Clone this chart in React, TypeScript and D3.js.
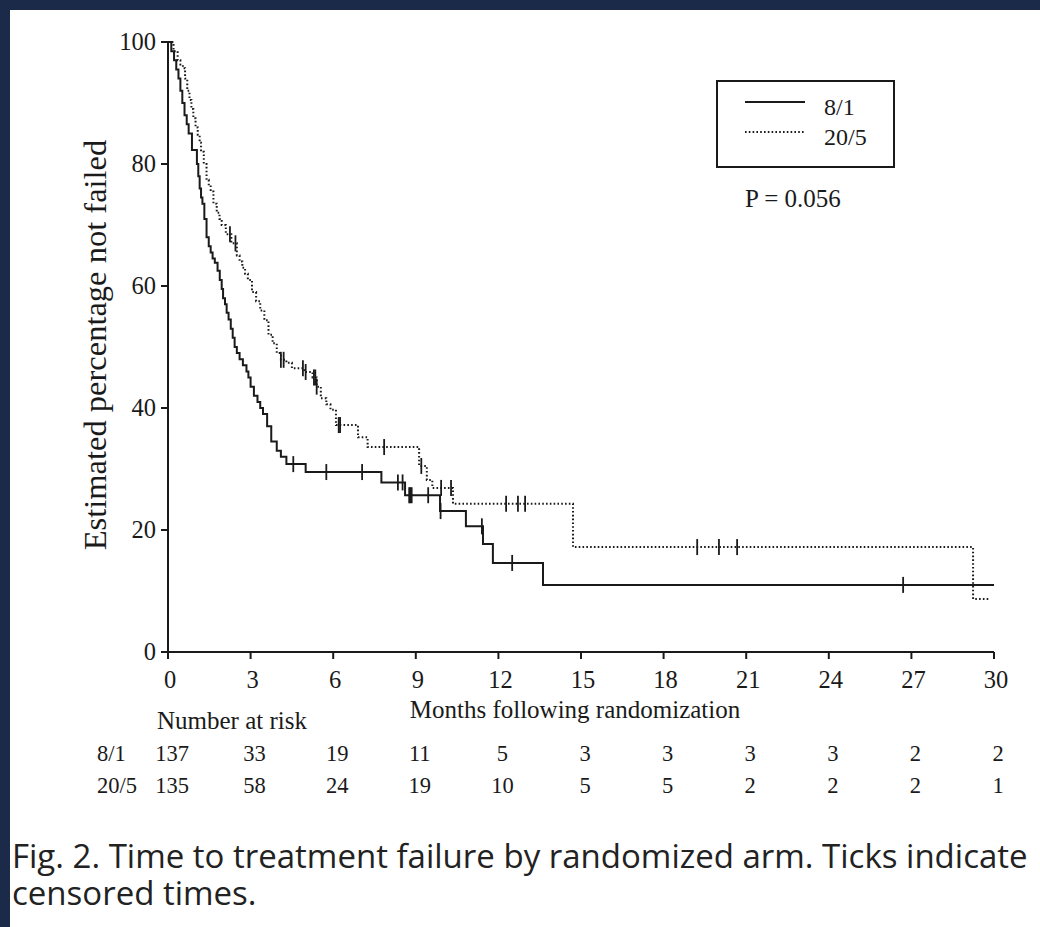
import React from "react";
import * as d3 from "d3";

// ---- data ----
const monthTicks = [0, 3, 6, 9, 12, 15, 18, 21, 24, 27, 30];
const pctTicks = [0, 20, 40, 60, 80, 100];

// 8/1 arm: step times (months) and estimated % not failed
const arm81Times = [0, 0.12, 0.22, 0.3, 0.38, 0.45, 0.52, 0.6, 0.68, 0.75, 0.87, 1.05, 1.1, 1.15, 1.2, 1.25, 1.32, 1.4, 1.48, 1.55, 1.62, 1.7, 1.8, 1.88, 1.95, 2.0, 2.07, 2.13, 2.2, 2.28, 2.35, 2.42, 2.5, 2.6, 2.72, 2.85, 2.92, 3.0, 3.12, 3.25, 3.35, 3.45, 3.6, 3.75, 3.95, 4.1, 4.3, 5.0, 7.75, 8.61, 9.88, 10.82, 11.44, 11.8, 13.62, 30];
const arm81Surv = [100, 98.5, 97, 95.5, 94, 92, 90, 88, 86.5, 85, 82.3, 80, 78, 76, 74.5, 73.5, 71, 68, 66.5, 65.5, 64.5, 63.8, 62.5, 61, 59.5, 58, 57, 55.6, 54.5, 53, 51.5, 50, 49, 48, 47, 46, 45, 43.5, 42, 41, 40, 39, 37, 34.5, 33, 32, 30.8, 29.5, 27.8, 25.7, 23.1, 20.6, 17.7, 14.6, 11, 11];
const arm81Censor = [4.55, 5.75, 7.05, 8.35, 8.52, 8.76, 8.8, 8.85, 9.45, 9.9, 11.4, 12.5, 26.7];

// 20/5 arm
const arm205Times = [0, 0.2, 0.35, 0.45, 0.54, 0.62, 0.7, 0.78, 0.85, 0.92, 1.0, 1.08, 1.15, 1.2, 1.3, 1.4, 1.48, 1.55, 1.65, 1.77, 1.87, 1.95, 2.1, 2.3, 2.5, 2.6, 2.7, 2.8, 2.9, 3.05, 3.2, 3.35, 3.5, 3.65, 3.8, 3.95, 4.1, 4.3, 4.5, 4.95, 5.25, 5.4, 5.55, 5.75, 5.9, 6.1, 6.9, 7.25, 9.12, 9.4, 9.6, 10.35, 14.71, 29.24, 29.82];
const arm205Surv = [100, 98.5, 97, 96.3, 95.7, 94, 92, 90.5, 89, 87.5, 86, 84.8, 83.5, 82, 80, 77.4, 76.5, 75.5, 73.5, 72, 71, 70, 68.5, 67, 65, 64, 63, 62, 61, 59, 57.5, 56, 54.4, 52, 50.6, 49, 47.9, 47.4, 46.5, 45.9, 45, 43.5, 41.6, 40.6, 39.7, 37.2, 35.2, 33.6, 30.5, 28.2, 26.9, 24.3, 17.2, 8.7, 8.7];
const arm205Censor = [2.25, 2.45, 4.1, 4.2, 4.9, 5.0, 5.3, 5.35, 5.4, 6.2, 6.25, 7.85, 9.2, 9.92, 10.28, 12.28, 12.71, 12.97, 19.22, 20.01, 20.67];

const atRisk81 = [137, 33, 19, 11, 5, 3, 3, 3, 3, 2, 2];
const atRisk205 = [135, 58, 24, 19, 10, 5, 5, 2, 2, 2, 1];

const armLabels = ["8/1", "20/5"];
const captionLines = [
  "Fig. 2. Time to treatment failure by randomized arm. Ticks indicate",
  "censored times.",
];

const serif = "'Liberation Serif', 'Times New Roman', serif";
const ink = "#1a1a1a";

function survAt(times: number[], surv: number[], t: number) {
  let v = surv[0];
  for (let i = 0; i < times.length; i++) if (times[i] <= t) v = surv[i];
  return v;
}

export default function App() {
  const x = d3.scaleLinear().domain([0, 30]).range([168, 994]);
  const y = d3.scaleLinear().domain([0, 100]).range([652, 42]);
  const mk = (times: number[], surv: number[]) =>
    d3
      .line<number>()
      .x((t) => x(t))
      .y((_, i) => y(surv[i]))
      .curve(d3.curveStepAfter)(times) || "";
  const path81 = mk(arm81Times, arm81Surv);
  const path205 = mk(arm205Times, arm205Surv);

  return (
    <div style={{ position: "fixed", left: 0, top: 0, width: 1040, height: 927, background: "#fff" }}>
      <svg width={1040} height={927} style={{ display: "block" }}>
        <rect x={0} y={0} width={1040} height={927} fill="#1b2a48" />
        <rect x={10} y={10} width={1030} height={917} fill="#ffffff" />

        {/* axes */}
        <line x1={168} x2={168} y1={y(100)} y2={y(0)} stroke={ink} strokeWidth={2} />
        <line x1={168} x2={x(30)} y1={y(0)} y2={y(0)} stroke={ink} strokeWidth={2} />
        {pctTicks.map((p) => (
          <g key={"yt" + p}>
            <line x1={161} x2={168} y1={y(p)} y2={y(p)} stroke={ink} strokeWidth={2} />
            <text x={156} y={y(p) + 8} textAnchor="end" fontFamily={serif} fontSize={24.5} fill={ink}>
              {p}
            </text>
          </g>
        ))}
        {monthTicks.map((m) => (
          <g key={"xt" + m}>
            <line x1={x(m)} x2={x(m)} y1={y(0)} y2={y(0) + 7} stroke={ink} strokeWidth={2} />
            <text x={x(m) + 2} y={688} textAnchor="middle" fontFamily={serif} fontSize={24.5} fill={ink}>
              {m}
            </text>
          </g>
        ))}
        <text
          transform={`translate(106,${y(50) - 2}) rotate(-90)`}
          textAnchor="middle"
          fontFamily={serif}
          fontSize={32.5}
          fill={ink}
        >
          Estimated percentage not failed
        </text>
        <text x={575} y={718} textAnchor="middle" fontFamily={serif} fontSize={25} fill={ink}>
          Months following randomization
        </text>

        {/* curves */}
        <path d={path81} fill="none" stroke={ink} strokeWidth={2} />
        <path d={path205} fill="none" stroke={ink} strokeWidth={2} strokeDasharray="1.6,2.2" />
        {arm81Censor.map((c, i) => (
          <line key={"c81" + i} x1={x(c)} x2={x(c)} y1={y(survAt(arm81Times, arm81Surv, c)) - 8} y2={y(survAt(arm81Times, arm81Surv, c)) + 8} stroke={ink} strokeWidth={1.8} />
        ))}
        {arm205Censor.map((c, i) => (
          <line key={"c205" + i} x1={x(c)} x2={x(c)} y1={y(survAt(arm205Times, arm205Surv, c)) - 8} y2={y(survAt(arm205Times, arm205Surv, c)) + 8} stroke={ink} strokeWidth={1.8} />
        ))}

        {/* legend */}
        <rect x={717} y={81} width={177} height={86} fill="none" stroke={ink} strokeWidth={2} />
        <line x1={745} x2={805} y1={102} y2={102} stroke={ink} strokeWidth={2} />
        <line x1={745} x2={805} y1={132} y2={132} stroke={ink} strokeWidth={2} strokeDasharray="1.6,2.2" />
        <text x={824} y={115} fontFamily={serif} fontSize={24} fill={ink}>{armLabels[0]}</text>
        <text x={824} y={145} fontFamily={serif} fontSize={24} fill={ink}>{armLabels[1]}</text>
        <text x={745} y={207} fontFamily={serif} fontSize={25} fill={ink}>P = 0.056</text>

        {/* number at risk */}
        <text x={157} y={729} fontFamily={serif} fontSize={25} fill={ink}>Number at risk</text>
        <text x={97} y={761} fontFamily={serif} fontSize={22.5} fill={ink}>{armLabels[0]}</text>
        <text x={97} y={793} fontFamily={serif} fontSize={22.5} fill={ink}>{armLabels[1]}</text>
        {atRisk81.map((n, i) => (
          <text key={"r81" + i} x={x(monthTicks[i]) + 4} y={761} textAnchor="middle" fontFamily={serif} fontSize={22.5} fill={ink}>{n}</text>
        ))}
        {atRisk205.map((n, i) => (
          <text key={"r205" + i} x={x(monthTicks[i]) + 4} y={793} textAnchor="middle" fontFamily={serif} fontSize={22.5} fill={ink}>{n}</text>
        ))}

        {/* caption */}
        <text x={12} y={868} fontFamily="'Open Sans', sans-serif" fontSize={33} fill="#222">
          {captionLines[0]}
        </text>
        <text x={12} y={905} fontFamily="'Open Sans', sans-serif" fontSize={33} fill="#222">
          {captionLines[1]}
        </text>
      </svg>
    </div>
  );
}
